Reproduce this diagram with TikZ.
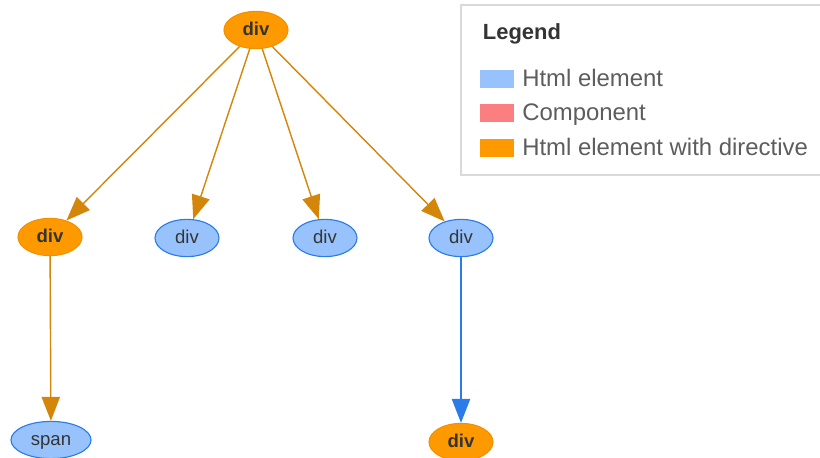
\documentclass[tikz,border=0pt]{standalone}
\usepackage{fontspec}
\setmainfont{Liberation Sans}
\usetikzlibrary{shapes.geometric,arrows.meta}
\definecolor{htmlfill}{HTML}{97C2FC}
\definecolor{htmlline}{HTML}{2B7CE9}
\definecolor{dirfill}{HTML}{FF9900}
\definecolor{dirline}{HTML}{F29100}
\definecolor{diredge}{HTML}{D4860B}
\definecolor{compfill}{HTML}{FB7E81}
\definecolor{labeltext}{HTML}{343434}

\begin{document}
\begin{tikzpicture}[x=0.025cm, y=-0.025cm,
  html/.style={draw=htmlline, fill=htmlfill, ellipse, line width=0.8pt, inner sep=0pt,
    minimum width=1.6cm, minimum height=0.93cm, text=labeltext, text height=1.5ex, text depth=0pt,
    font=\fontsize{13.2}{14}\selectfont},
  directive/.style={html, draw=dirline, fill=dirfill, font=\fontsize{13.2}{14}\selectfont\bfseries},
  link/.style={draw=diredge, line width=1pt, -{Triangle[length=17pt, width=13pt]}},
  bluelink/.style={link, draw=htmlline, fill=htmlline},
  swatch/.style={minimum width=0.85cm, minimum height=0.45cm, inner sep=0pt},
  legendtext/.style={anchor=west, inner sep=0pt, text height=2.2ex, text depth=0.5ex,
    text=labeltext!80!white, font=\fontsize{17}{20}\selectfont}]
\clip (0,0) rectangle (820,458);

% tree
\node[directive] (root) at (256,30) {div};
\node[directive] (d1) at (50,237) {div};
\node[html] (d2) at (187,238) {div};
\node[html] (d3) at (325,238) {div};
\node[html] (d4) at (461,238) {div};
\node[html, minimum width=2cm] (sp) at (51,440) {span};
\node[directive] (d5) at (461,442) {div};

\draw[link, fill=diredge] (root) -- (d1);
\draw[link, fill=diredge] (root) -- (d2);
\draw[link, fill=diredge] (root) -- (d3);
\draw[link, fill=diredge] (root) -- (d4);
\draw[link, fill=diredge] (d1) -- (sp);
\draw[bluelink] (d4) -- (d5);

% legend
\draw[black!15, line width=0.8pt, fill=white] (461,5) rectangle (830,175);
\node[anchor=west, text=labeltext, font=\fontsize{15.6}{18}\selectfont\bfseries] (title) at (478,34) {Legend};
\node[swatch, fill=htmlfill] (k1) at (497,79) {};
\node[swatch, fill=compfill] (k2) at (497,113) {};
\node[swatch, fill=dirfill] (k3) at (497,148) {};
\node[legendtext] (t1) at (522,80) {Html element};
\node[legendtext] (t2) at (522,114) {Component};
\node[legendtext] (t3) at (522,149) {Html element with directive};
\end{tikzpicture}
\end{document}
